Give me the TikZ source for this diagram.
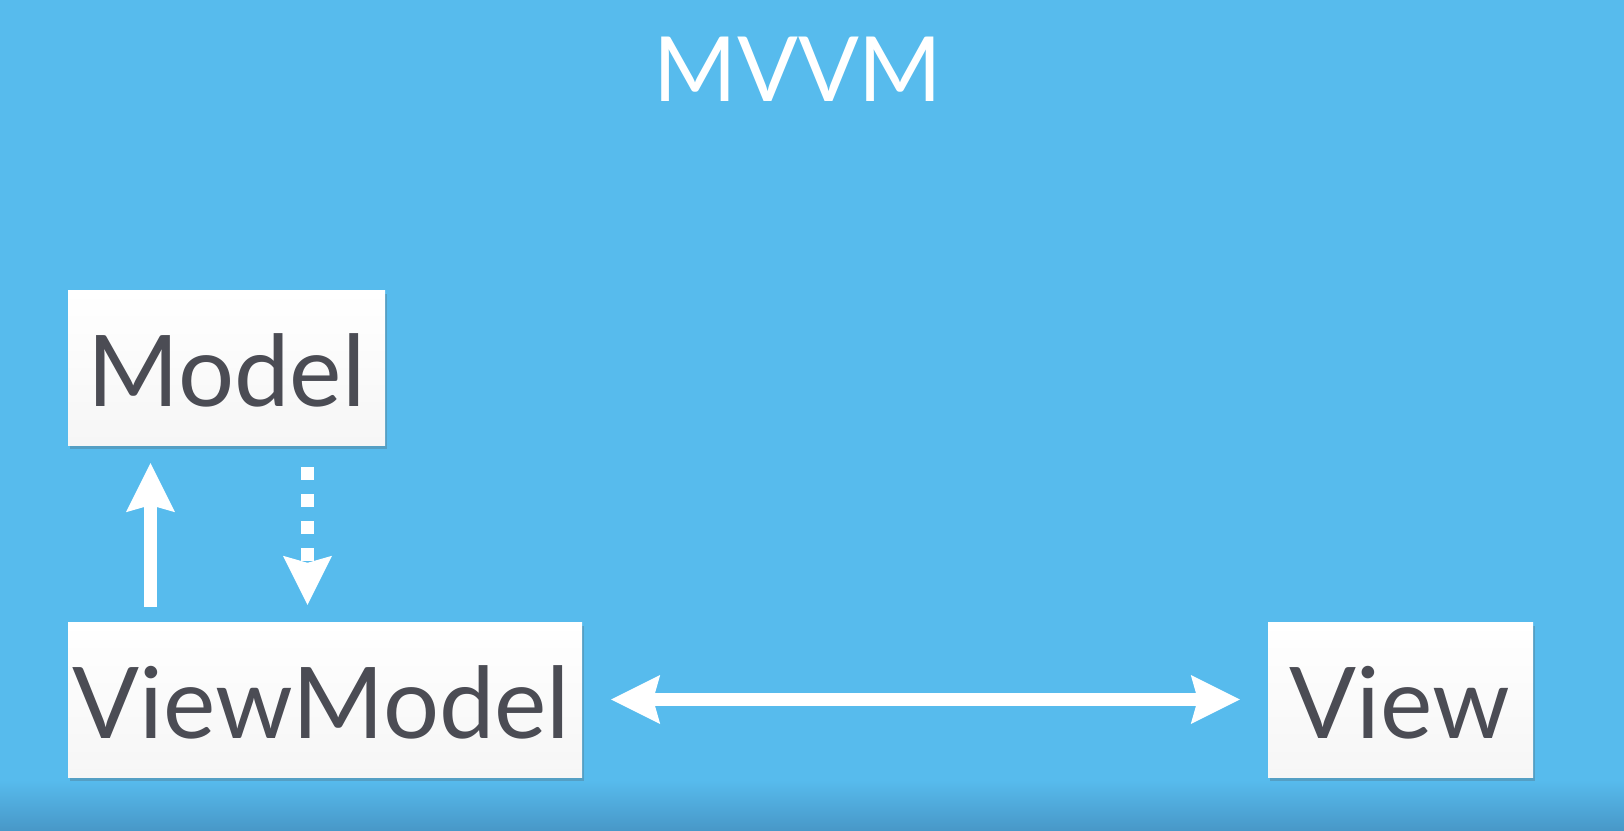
\documentclass[tikz,border=0pt]{standalone}
\usepackage{fontspec}
\setmainfont{Lato}
\usetikzlibrary{arrows.meta,shadows}
\definecolor{bgblue}{RGB}{87,187,237}
\definecolor{bgdark}{RGB}{72,152,200}
\definecolor{txtgray}{RGB}{75,76,84}
\definecolor{boxbot}{RGB}{246,246,246}
\tikzset{
  box/.style={rectangle, inner sep=0pt, draw=none, top color=white, bottom color=boxbot,
    drop shadow={shadow xshift=2pt, shadow yshift=-4pt, opacity=0.25, fill=black!70}},
  lbl/.style={anchor=base, inner sep=0pt, text=txtgray, font=\fontsize{99}{110}\selectfont},
  ttl/.style={anchor=base, inner sep=0pt, text=white, font=\fontsize{90}{100}\selectfont},
  tip/.tip={Stealth[length=49pt, width=49pt, inset=7pt, line width=0pt, fill=white]},
  arr/.style={draw=white, line width=13pt, -tip},
  darr/.style={draw=white, line width=13pt, tip-tip},
  dsh/.style={draw=white, line width=13pt, dash pattern=on 13pt off 14pt, -tip},
  shaft/.style={fill=white, draw=none}
}
\begin{document}
\begin{tikzpicture}[x=1pt,y=-1pt]
\useasboundingbox (0,0) rectangle (1624,830);
\fill[bgblue] (0,0) rectangle (1624,830);
\shade[top color=bgblue, bottom color=bgdark] (0,780) rectangle (1624,830);
% title
\node[ttl] (title) at (798,101) {MVVM};
% boxes
\node[box, minimum width=317pt, minimum height=155pt] (model) at (226.5,367.5) {};
\node[box, minimum width=514pt, minimum height=155pt] (vm) at (325,699.5) {};
\node[box, minimum width=265pt, minimum height=155pt] (view) at (1400.5,699.5) {};
% labels
\node[lbl] (modeltxt) at (226.5,406) {Model};
\node[lbl] (vmtxt) at (321.5,738) {ViewModel};
\node[lbl] (viewtxt) at (1399.5,738) {View};
% connector end points
\coordinate (upS) at ([xshift=-174.5pt, yshift=15pt]vm.north);
\coordinate (upE) at ([xshift=-76pt, yshift=-18pt]model.south);
\coordinate (dnS) at ([xshift=81pt, yshift=-22pt]model.south);
\coordinate (dnE) at ([xshift=-17.5pt, yshift=17pt]vm.north);
\coordinate (hL) at ([xshift=29pt]vm.east);
\coordinate (hR) at ([xshift=-28pt]view.west);
% arrows
\draw[arr] (upS) -- (upE);
\draw[dsh] (dnS) -- (dnE);
\draw[darr] (hL) -- (hR);
\fill[shaft] ([xshift=40pt, yshift=-6.5pt]hL) rectangle ([xshift=-40pt, yshift=6.5pt]hR);
\end{tikzpicture}
\end{document}
